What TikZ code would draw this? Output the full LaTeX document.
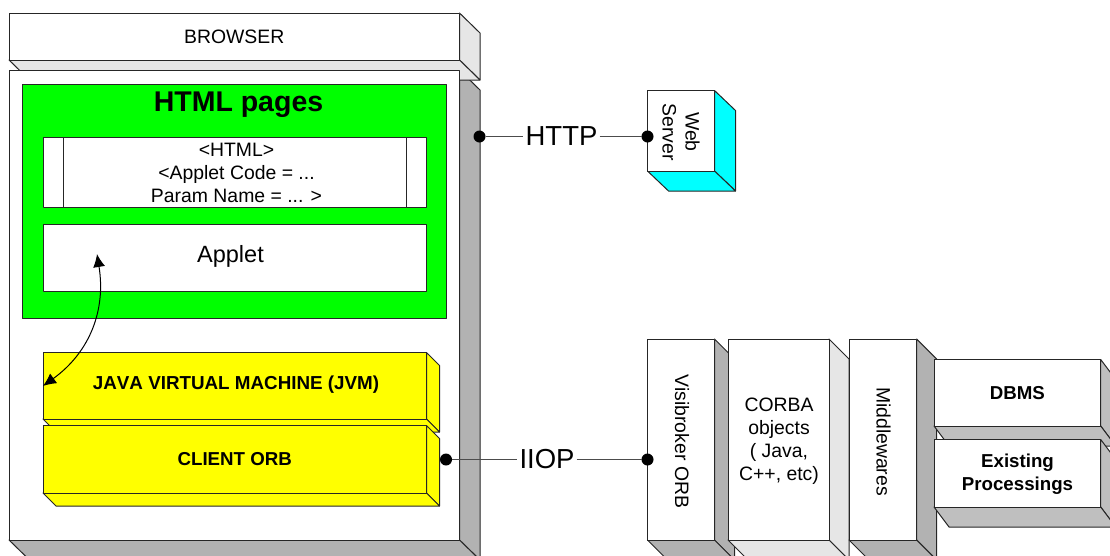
\documentclass[tikz,border=0pt]{standalone}
\usepackage{fontspec}
\setmainfont{Liberation Sans}
\usetikzlibrary{arrows.meta}
\newcommand{\fs}[1]{\fontsize{#1}{23}\selectfont}
\definecolor{sidegrey}{RGB}{178,178,178}
\definecolor{lightgrey}{RGB}{230,230,230}
\definecolor{midgrey}{RGB}{191,191,191}
\definecolor{pureyellow}{RGB}{255,255,0}
\definecolor{purecyan}{RGB}{0,255,255}
\definecolor{puregreen}{RGB}{0,255,0}
\tikzset{
  edge/.style={draw=black!85,line width=1pt,line join=round},
  frontbox/.style={edge,inner sep=0pt,outer sep=0pt,align=center},
  dotmark/.style={circle,fill=black,inner sep=0pt,minimum size=12pt,outer sep=0pt},
  wire/.style={draw=black!70,line width=1pt},
  big/.style={font=\fs{27.5}},
  label/.style={font=\fs{19.4},align=center},
  heavy/.style={font=\bfseries\fs{18.7},align=center}
}
% back faces: x1 y1 x2 y2 dx dy sidecolour bottomcolour
\newcommand{\backfaces}[8]{%
  \draw[edge,fill=#7] (#3,#2) -- ({#3+#5},{#2+#6}) -- ({#3+#5},{#4+#6}) -- (#3,#4) -- cycle;
  \draw[edge,fill=#8] (#1,#4) -- (#3,#4) -- ({#3+#5},{#4+#6}) -- ({#1+#5},{#4+#6}) -- cycle;
}
% front face: [text style] name x1 y1 x2 y2 fill text
\newcommand{\face}[7][label]{%
  \node[frontbox,#1,fill=#7,minimum width={(#5-#3)*1pt},minimum height={(#6-#4)*1pt}]
    (#2) at ({(#3+#5)/2},{(#4+#6)/2}) {\facetext};
}
\newcommand{\facetext}{}
\newcommand{\facewith}[8][label]{\renewcommand{\facetext}{#8}\face[#1]{#2}{#3}{#4}{#5}{#6}{#7}\renewcommand{\facetext}{}}
\begin{document}
\begin{tikzpicture}[x=1pt,y=-1pt]
\useasboundingbox (0,0) rectangle (1110,555);
\clip (0,0) rectangle (1110,555);

% main browser body and browser bar
\backfaces{9}{70}{459.5}{540}{20.5}{20}{sidegrey}{sidegrey}
\backfaces{9}{13}{459.5}{60}{20.5}{20}{lightgrey}{lightgrey}
\facewith{browserbar}{9}{13}{459.5}{60}{white}{BROWSER}
\face{browserbody}{9}{70}{459.5}{540}{white}

% HTML pages
\face{htmlpages}{22.5}{84}{446}{318}{puregreen}
\node[font=\bfseries\fs{28.5}] (htmltitle) at (238.5,105) {HTML pages};
\face{htmlcode}{43}{137.5}{426}{207.5}{white}
\draw[edge] (63,137.5) -- (63,207.5) (406,137.5) -- (406,207.5);
\node[label,inner sep=0pt] (codetext) at (236.5,172.5) {<HTML>\\<Applet Code = ...\\Param Name = ... >};
\face{applet}{43}{224.5}{426}{291.5}{white}
\node[font=\fs{23.5}] (applettext) at (230.5,256) {Applet};

% yellow stack
\backfaces{43}{352.5}{426.5}{419}{13}{13}{pureyellow}{pureyellow}
\face{jvm}{43}{352.5}{426.5}{419}{pureyellow}
\node[font=\bfseries\fs{18.8}] (jvmtext) at (236,385) {\addfontfeature{Kerning=Off}JAVA VIRTUAL MACHINE (JVM)};
\backfaces{43}{425.5}{426.5}{493}{13}{13}{pureyellow}{pureyellow}
\facewith[heavy]{orb}{43}{425.5}{426.5}{493}{pureyellow}{CLIENT ORB}

% applet arrow
\coordinate (arrowtop) at (97,254);
\coordinate (arrowbottom) at (43,386);
\draw[{Latex[length=13pt,width=12pt]}-{Latex[length=13pt,width=12pt]},line width=1pt] (arrowtop) .. controls (106,310) and (90,352) .. (arrowbottom);

% web server
\backfaces{647.5}{90.5}{714.5}{171}{21}{20}{purecyan}{purecyan}
\face{web}{647.5}{90.5}{714.5}{171}{white}
\node[label,rotate=-90] (webtext) at (681,132) {Web\\Server};

% right stack
\backfaces{647.5}{339}{714.5}{540}{20}{20}{sidegrey}{sidegrey}
\face{visi}{647.5}{339}{714.5}{540}{white}
\node[label,rotate=-90] (visitext) at (682,441.5) {Visibroker ORB};
\backfaces{728}{339}{829}{540}{20}{20}{lightgrey}{lightgrey}
\face{corba}{728}{339}{829}{540}{white}
\node[label] (corbatext) at (779,441.5) {CORBA\\objects\\( Java,\\C++, etc)};
\backfaces{849}{339}{916.7}{540}{20}{20}{sidegrey}{sidegrey}
\face{middle}{849}{339}{916.7}{540}{white}
\node[label,rotate=-90] (midtext) at (883.5,441.5) {Middlewares};
\backfaces{934}{359.5}{1100.7}{426}{15}{20}{midgrey}{midgrey}
\facewith[heavy]{dbms}{934}{359.5}{1100.7}{426}{white}{DBMS}
\backfaces{934}{439.5}{1100.7}{507}{15}{20}{midgrey}{midgrey}
\face{existing}{934}{439.5}{1100.7}{507}{white}
\node[heavy] (existingtext) at (1017.5,474.5) {Existing\\Processings};

% connectors
\node[dotmark] (dota) at (479.5,136.5) {};
\node[dotmark] (dotb) at (647.5,136.5) {};
\node[big,inner sep=2pt] (http) at (561.5,136.5) {HTTP};
\draw[wire] (dota) -- (http);
\draw[wire] (http) -- (dotb);
\node[dotmark] (dotc) at (446,459.5) {};
\node[dotmark] (dotd) at (647.5,459.5) {};
\node[big,inner sep=2pt] (iiop) at (547,459.5) {IIOP};
\draw[wire] (dotc) -- (iiop);
\draw[wire] (iiop) -- (dotd);
\end{tikzpicture}
\end{document}
